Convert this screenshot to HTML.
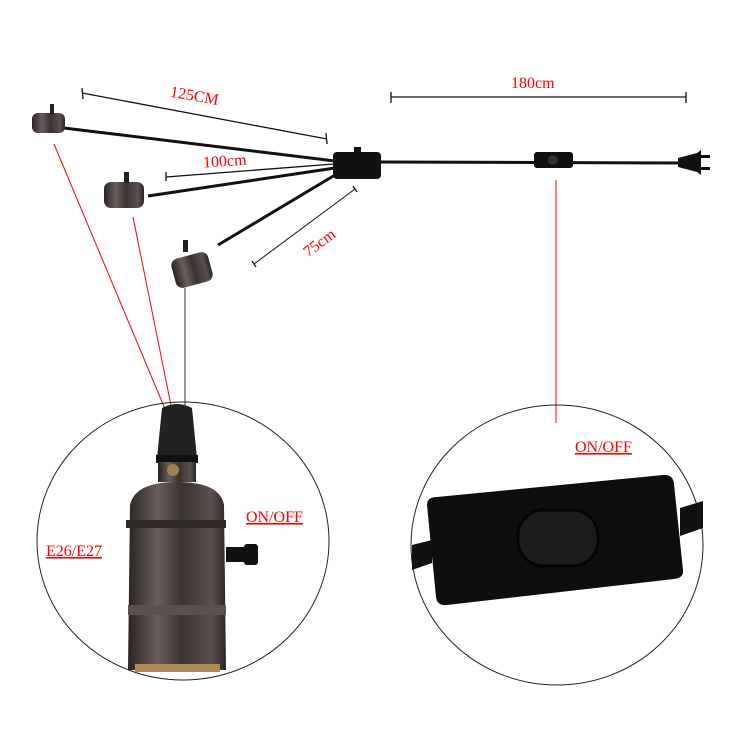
<!DOCTYPE html>
<html><head><style>body{margin:0;background:#fff}svg{display:block}</style></head><body>
<svg width="750" height="750" viewBox="0 0 750 750" xmlns="http://www.w3.org/2000/svg" font-family="Liberation Serif, serif">
<defs>
<linearGradient id="met" x1="0" x2="1">
<stop offset="0" stop-color="#2a2424"/><stop offset="0.3" stop-color="#6a5e5c"/><stop offset="0.55" stop-color="#3a3232"/><stop offset="0.85" stop-color="#5a504e"/><stop offset="1" stop-color="#2a2424"/></linearGradient>
</defs>
<g stroke="#111" stroke-width="1.3">
<line x1="82" y1="93" x2="327" y2="139"/><line x1="82" y1="88" x2="83" y2="99"/><line x1="326" y1="133" x2="327" y2="144"/>
<line x1="166" y1="177" x2="334" y2="164"/><line x1="166" y1="172" x2="166" y2="181"/>
<line x1="254" y1="264" x2="355" y2="189" stroke-width="1"/><line x1="252" y1="261" x2="256" y2="267"/><line x1="353" y1="186" x2="357" y2="192"/>
<line x1="391" y1="97" x2="686" y2="97"/><line x1="391" y1="92" x2="391" y2="103"/><line x1="686" y1="92" x2="686" y2="103"/>
</g>
<g fill="#f00" font-size="16">
<text x="170" y="101" transform="rotate(10 195 96)">125CM</text>
<text x="203" y="166" transform="rotate(-4 227 162)">100cm</text>
<text x="300" y="247" transform="rotate(-37 320 240)">75cm</text>
<text x="511" y="88">180cm</text>
</g>
<g stroke="#f00" stroke-width="1">
<line x1="54" y1="144" x2="183" y2="452"/>
<line x1="133" y1="217" x2="178" y2="440"/>
<line x1="556" y1="180" x2="556" y2="423"/>
</g>
<line x1="185" y1="288" x2="185" y2="405" stroke="#333" stroke-width="1"/>
<g stroke="#111" stroke-width="3" fill="none">
<line x1="64" y1="128" x2="335" y2="161"/>
<line x1="148" y1="196" x2="335" y2="168"/>
<line x1="218" y1="245" x2="335" y2="175"/>
<line x1="380" y1="162" x2="690" y2="163"/>
</g>
<rect x="333" y="152" width="48" height="27" rx="4" fill="#111"/>
<rect x="354" y="147" width="7" height="8" fill="#111"/>
<rect x="534" y="152" width="39" height="16" rx="3" fill="#111"/>
<ellipse cx="553" cy="160" rx="5" ry="5" fill="#333"/>
<path d="M678 158 L697 153 L701 150 L701 175 L697 172 L678 167Z" fill="#111"/>
<rect x="700" y="155" width="10" height="3" fill="#111"/><rect x="700" y="167" width="10" height="3" fill="#111"/>
<g>
<rect x="32" y="113" width="33" height="20" rx="6" fill="url(#met)"/><rect x="50" y="104" width="4" height="10" fill="#222"/>
<rect x="104" y="182" width="40" height="26" rx="7" fill="url(#met)"/><rect x="124" y="172" width="5" height="11" fill="#222"/>
<rect x="173" y="255" width="38" height="30" rx="7" fill="url(#met)" transform="rotate(-15 192 270)"/><rect x="183" y="240" width="5" height="12" fill="#222"/>
</g>
<ellipse cx="183" cy="541" rx="146" ry="139" fill="none" stroke="#222" stroke-width="1"/>
<ellipse cx="557" cy="545" rx="146" ry="140" fill="none" stroke="#222" stroke-width="1"/>
<path d="M162 408 Q177 400 192 408 L197 458 L157 458Z" fill="#222"/>
<rect x="156" y="455" width="42" height="8" fill="#111"/>
<rect x="158" y="462" width="38" height="20" fill="url(#met)"/>
<circle cx="173" cy="470" r="6" fill="#a08050"/>
<path d="M130 505 Q135 482 177 482 Q220 482 224 505 L226 670 L128 670Z" fill="url(#met)"/>
<rect x="126" y="520" width="100" height="8" fill="#2f2828"/>
<rect x="128" y="605" width="98" height="10" fill="#5a504e"/>
<rect x="135" y="664" width="85" height="8" fill="#b08a55"/>
<rect x="226" y="547" width="22" height="15" fill="#111"/>
<rect x="244" y="544" width="14" height="21" rx="3" fill="#111"/>
<g fill="#f00" font-size="16" text-decoration="underline">
<text x="246" y="522">ON/OFF</text>
<text x="46" y="556">E26/E27</text>
<text x="575" y="452">ON/OFF</text>
</g>
<path d="M412 545 L432 540 L432 563 L412 570Z" fill="#111"/>
<path d="M680 508 L703 501 L703 528 L680 536Z" fill="#111"/>
<path d="M427 505 Q427 497 437 497 L663 475 Q673 474 674 484 L683 570 Q684 578 674 579 L447 605 Q437 606 436 597Z" fill="#0e0e0e"/>
<rect x="518" y="510" width="80" height="56" rx="26" fill="#1c1c1c" stroke="#050505" stroke-width="3"/>
</svg>
</body></html>
